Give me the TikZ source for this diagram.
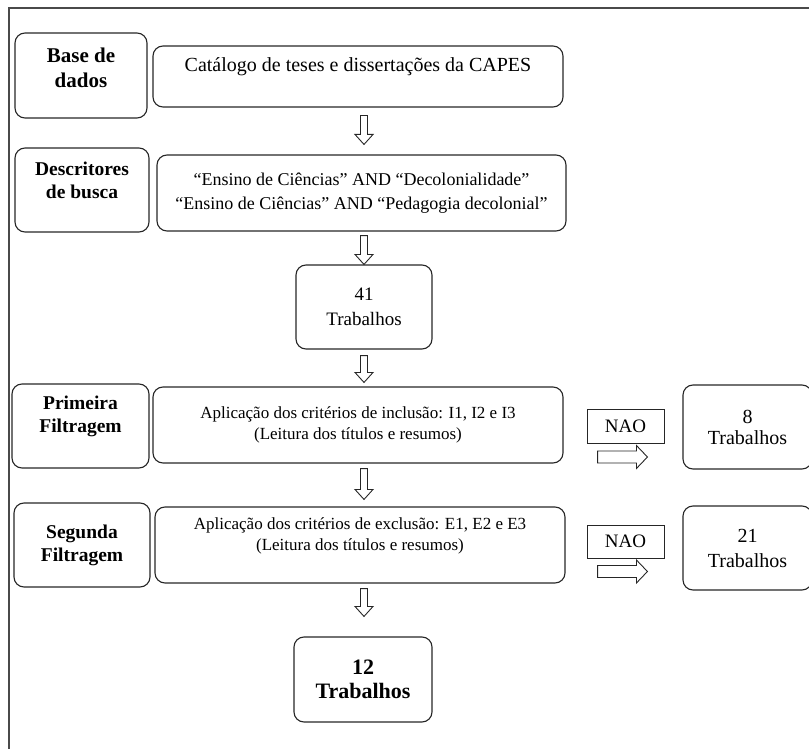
\documentclass[tikz,border=0pt]{standalone}
\usepackage{fontspec}
\setmainfont{Liberation Serif}
\usetikzlibrary{calc}
\definecolor{boxline}{HTML}{262626}
\definecolor{frameline}{HTML}{4A4A4A}

\tikzset{
  labelbox/.style={draw=boxline, line width=1.1pt, rounded corners=10pt, align=center, inner sep=2pt,
    font=\fontsize{19.5}{23}\selectfont\bfseries},
  stepbox/.style={draw=boxline, line width=1.1pt, rounded corners=10pt, align=center, inner sep=2pt,
    font=\fontsize{18}{24}\selectfont},
  countbox/.style={draw=boxline, line width=1.1pt, rounded corners=10pt, align=center, inner sep=2pt,
    minimum width=136pt, minimum height=84pt, font=\fontsize{19}{25}\selectfont},
  naobox/.style={draw=boxline, line width=1pt, inner sep=2pt, minimum width=77pt, minimum height=34pt,
    font=\fontsize{19}{22}\selectfont},
  downarrow/.style={draw=boxline, line width=0.9pt, to path={
    let \p1=(\tikztostart), \p2=(\tikztotarget) in
    (\x1-3.5pt,\y1) -- (\x1-3.5pt,\y2+10pt) -- (\x1-9pt,\y2+10pt) -- (\x1,\y2)
    -- (\x1+9pt,\y2+10pt) -- (\x1+3.5pt,\y2+10pt) -- (\x1+3.5pt,\y1) -- cycle}},
  rightarrow/.style={draw=boxline, line width=0.9pt, to path={
    let \p1=(\tikztostart), \p2=(\tikztotarget) in
    (\x1,\y1+6pt) -- (\x2-11pt,\y1+6pt) -- (\x2-11pt,\y1+11.5pt) -- (\x2,\y1)
    -- (\x2-11pt,\y1-11.5pt) -- (\x2-11pt,\y1-6pt) -- (\x1,\y1-6pt) -- cycle}}
}

\begin{document}
\begin{tikzpicture}[x=1pt, y=-1pt]

\clip (0,0) rectangle (809,749);

% Frame
\draw[frameline, line width=2pt] (8.5,749) -- (8.5,8) -- (812,8);

% Row 1: database
\node[labelbox, font=\fontsize{21}{25}\selectfont\bfseries, minimum width=132pt, minimum height=85pt]
  (base) at (81,75.5) {Base de\\dados\\[-10pt]\mbox{}};
\node[stepbox, font=\fontsize{20}{23}\selectfont, minimum width=410pt, minimum height=61pt]
  (cat) at (358,76.5) {Catálogo de teses e dissertações da CAPES\\\mbox{}};

% Row 2: search terms
\node[labelbox, minimum width=134pt, minimum height=84pt]
  (desc) at (82,190) {Descritores\\de busca\\[-3pt]\mbox{}};
\node[stepbox, minimum width=409pt, minimum height=76pt]
  (srch) at (361.5,193) {“Ensino de Ciências” AND “Decolonialidade”\\“Ensino de Ciências” AND “Pedagogia decolonial”};

% Result: 41
\node[countbox] (n41) at (364,307) {41\\Trabalhos};

% Row 3: first filter
\node[labelbox, minimum width=137pt, minimum height=84pt]
  (prim) at (80.5,426) {Primeira\\Filtragem\\\mbox{}};
\node[stepbox, font=\fontsize{17}{21}\selectfont, minimum width=410pt, minimum height=76pt]
  (incl) at (358,425) {Aplicação dos critérios de inclusão: I1, I2 e I3\\(Leitura dos títulos e resumos)};
\node[naobox] (nao1) at (625.5,426) {NAO};
\node[countbox, minimum width=129pt, font=\fontsize{20}{21}\selectfont] (res8) at (747.5,427) {8\\Trabalhos};

% Row 4: second filter
\node[labelbox, minimum width=136pt, minimum height=84pt]
  (seg) at (82,545) {Segunda\\Filtragem};
\node[stepbox, font=\fontsize{17}{21}\selectfont, minimum width=410pt, minimum height=76pt]
  (excl) at (360,545) {Aplicação dos critérios de exclusão: E1, E2 e E3\\(Leitura dos títulos e resumos)\\\mbox{}};
\node[naobox, minimum height=33pt] (nao2) at (625.5,541.5) {NAO};
\node[countbox, minimum width=129pt, font=\fontsize{20}{25}\selectfont] (res21) at (747.5,548) {21\\Trabalhos};

% Final result: 12
\node[countbox, minimum width=138pt, minimum height=85pt, font=\fontsize{22}{24}\selectfont\bfseries]
  (n12) at (363,679.5) {12\\Trabalhos};

% Block arrows down
\draw[downarrow] ($(cat.south -| n41)+(0,8)$) to ($(srch.north -| n41)+(0,-10)$);
\draw[downarrow] ($(srch.south -| n41)+(0,4)$) to (n41.north);
\draw[downarrow] ($(n41.south)+(0,6)$) to ($(incl.north -| n41)+(0,-4)$);
\draw[downarrow] ($(incl.south -| n41)+(0,5)$) to ($(excl.north -| n41)+(0,-7)$);
\draw[downarrow] ($(excl.south -| n41)+(0,5)$) to ($(n12.north -| n41)+(0,-20)$);

% Block arrows right
\draw[rightarrow] ($(incl.east)+(34,32)$) to ($(res8.west)+(-35,30)$);
\draw[rightarrow] ($(excl.east)+(32,26.5)$) to ($(res21.west)+(-35,23.5)$);

\end{tikzpicture}
\end{document}
